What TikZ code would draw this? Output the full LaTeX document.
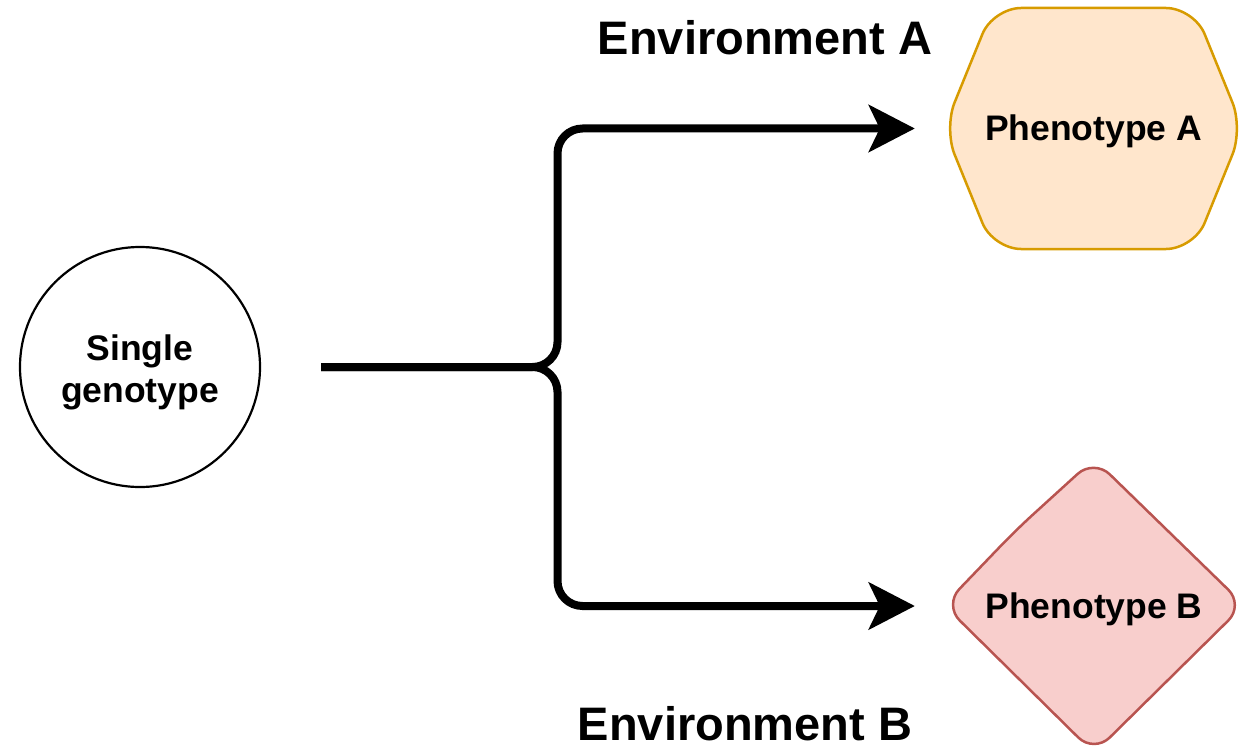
\documentclass[tikz,border=0pt]{standalone}
\usepackage{fontspec}
\setmainfont{Liberation Sans}
\usetikzlibrary{arrows.meta,backgrounds}
\definecolor{hexfill}{HTML}{FFE6CC}
\definecolor{hexdraw}{HTML}{D79B00}
\definecolor{diafill}{HTML}{F8CECC}
\definecolor{diadraw}{HTML}{B85450}
\begin{document}
\begin{tikzpicture}[x=1pt,y=-1pt,
  lbl/.style={font=\bfseries\fontsize{35.5}{42}\selectfont, align=center, inner sep=0pt},
  envlbl/.style={font=\bfseries\fontsize{47}{50}\selectfont, inner sep=0pt, anchor=base},
  conn/.style={line width=8pt, -{Stealth[length=46pt,width=47pt,inset=11pt]}, rounded corners=25pt},
  shapebox/.style={lbl, draw=none, text height=25pt, text depth=0pt},
  hexstyle/.style={draw=hexdraw, fill=hexfill, line width=2.5pt, rounded corners=28pt},
  diastyle/.style={draw=diadraw, fill=diafill, line width=2.5pt, rounded corners=22pt}]
\useasboundingbox (0,0) rectangle (1246,746);
% genotype circle
\node[circle, draw, line width=2.2pt, minimum size=240pt, inner sep=0pt] (geno) at (140,367) {};
\node[lbl] (genotext) at (140,372) {Single\\genotype};
% phenotype nodes
\node[shapebox, minimum width=287pt, minimum height=239pt] (phA) at (1093.5,128.5) {Phenotype A};
\node[shapebox, minimum width=284pt, minimum height=277pt] (phB) at (1094,606) {Phenotype B};
\begin{scope}[on background layer]
\draw[hexstyle] (1093.5,8) -- (1194,8) -- (1243,128.5) -- (1194,249) -- (993,249) -- (944,128.5) -- (993,8) -- cycle;
\draw[diastyle] (1016,530) -- (1094,459) -- (1244,605) -- (1094,753) -- (944,605) -- cycle;
\end{scope}
% connectors
\coordinate (fork) at (557.5,367);
\draw[conn, shorten <=60pt, shorten >=35pt] (geno.east) -- (fork) |- (phA.west);
\draw[conn, shorten <=60pt, shorten >=37pt] (geno.east) -- (fork) |- (phB.west);
% environment labels
\node[envlbl] (envA) at (765,55) {Environment A};
\node[envlbl] (envB) at (745,740) {Environment B};
\end{tikzpicture}
\end{document}
